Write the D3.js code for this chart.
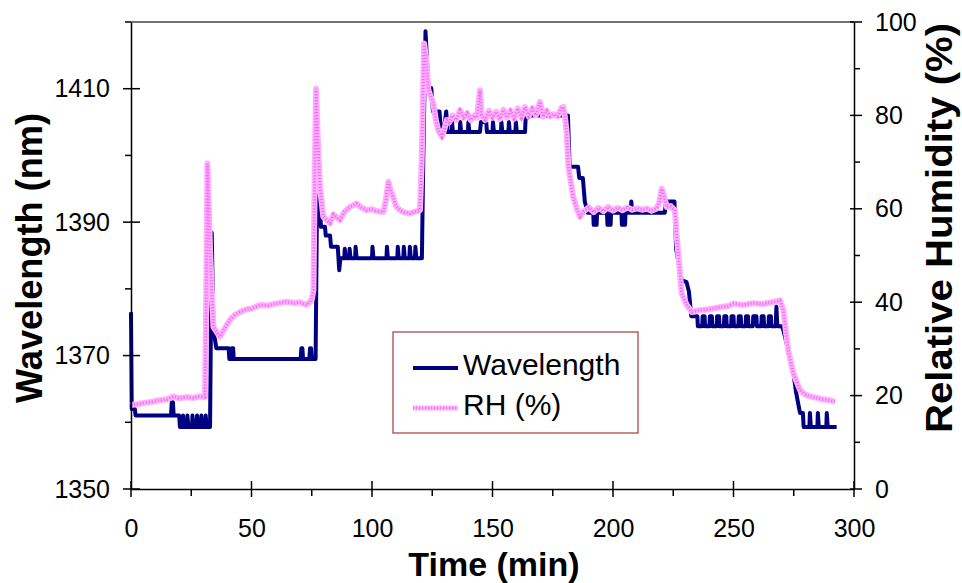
<!DOCTYPE html>
<html>
<head>
<meta charset="utf-8">
<script src="https://cdn.jsdelivr.net/npm/d3@7"></script>
<style>
  body { margin: 0; background: #fff; }
  svg text { font-family: Arial, "Liberation Sans", sans-serif; }
</style>
</head>
<body>
<svg id="chart"></svg>
<script>
// wavelength (nm) on the left axis, relative humidity (%) on the right axis

let width  = 962,
    height = 583;
let margin = {left: 131, right: 108, top: 22, bottom: 94};

let timeMajor = [0, 50, 100, 150, 200, 250, 300],
    timeMinor = [25, 75, 125, 175, 225, 275],
    wlMajor   = [1350, 1370, 1390, 1410],
    wlMinor   = [1360, 1380, 1400, 1420],
    rhMajor   = [0, 20, 40, 60, 80, 100],
    rhMinor   = [10, 30, 50, 70, 90];

// [time (min), wavelength (nm)]
let wavelength = [
  [0,1376.5],[0.3,1362],[1.6,1362],[1.9,1361],
  [16.6,1361],[16.9,1363],[17.4,1363],[17.7,1361],
  [20,1361],[20.3,1359.3],[21.4,1359.3],[21.6,1361],[22,1359.3],[23.2,1359.3],[23.4,1361],[23.8,1359.3],
  [25.3,1359.3],[25.5,1361],[25.9,1359.3],[27.2,1359.3],[27.4,1361],[27.8,1359.3],[29,1359.3],[29.2,1361],
  [29.6,1359.3],[30.8,1359.3],[31,1361],[31.4,1359.3],[32.8,1359.3],
  [33.5,1388.4],[34.2,1373.4],[34.8,1372.5],[35.4,1371.1],[40.5,1371.1],[40.8,1369.5],[41.6,1369.5],
  [41.8,1371.1],[42.4,1371.1],[42.6,1369.5],
  [70.4,1369.5],[70.7,1371.1],[71.1,1371.1],[71.4,1369.5],[74,1369.5],[74.3,1371.1],[74.7,1371.1],
  [75,1369.5],[76.6,1369.5],
  [77.4,1402],[78,1396],[78.8,1389.3],[80.5,1389.3],[80.8,1388],[82.6,1388],[83,1386.3],[85.8,1386.3],
  [86.4,1382.8],[86.9,1384.6],[88.5,1384.6],[88.7,1386],[89.1,1384.6],[90.5,1384.6],[90.7,1386],[91.1,1384.6],
  [93,1384.6],[93.2,1386.3],[93.6,1384.6],[100,1384.6],[100.2,1386.3],[100.6,1384.6],[106,1384.6],
  [106.2,1386.3],[106.6,1384.6],[110.5,1384.6],[110.7,1386.3],[111.1,1384.6],[113,1384.6],[113.2,1386.3],
  [113.6,1384.6],[115.5,1384.6],[115.7,1386.3],[116.1,1384.6],[117.8,1384.6],[118,1386.3],[118.4,1384.6],
  [120.7,1384.6],
  [121.3,1400],[122.2,1418.6],[123.4,1410.1],[124.6,1410.1],[125.3,1406.6],[128,1406.6],[128.5,1404.3],
  [130,1404.3],[130.8,1406.6],[131.3,1403.5],
  [133,1403.5],[133.2,1405],[133.6,1403.5],[136.4,1403.5],[136.6,1405],[137,1403.5],[139.8,1403.5],
  [140,1405],[140.4,1403.5],[144.8,1403.5],[145.2,1405],[147.4,1405],[147.7,1403.5],[150,1403.5],
  [150.2,1405],[150.6,1403.5],[153.5,1403.5],[153.7,1405],[154.1,1403.5],[156.6,1403.5],[156.8,1405],
  [157.2,1403.5],[159.5,1403.5],[159.7,1405],[160.1,1403.5],[163.5,1403.5],[163.8,1406],
  [181.3,1406],[182,1398.3],[185.5,1398.3],[186,1396.6],[187.5,1396.6],[188.3,1393.1],[189.5,1391.4],
  [191.8,1391.4],[192,1389.6],[193.2,1389.6],[193.4,1391.4],[197.5,1391.4],[197.7,1389.6],[199,1389.6],
  [199.2,1391.4],[203.5,1391.4],[203.7,1389.6],[205,1389.6],[205.2,1391.4],[207.3,1391.4],[207.6,1393.1],
  [208,1391.4],[221.5,1391.4],[222,1393.1],[225.5,1393.1],
  [226.2,1386],[228.5,1381.3],[230.5,1381],[231.5,1379.6],[232.5,1375.9],
  [235,1375.9],[235.2,1374.4],[237,1374.4],[237.2,1375.9],[238,1375.9],[238.2,1374.4],[240,1374.4],
  [240.2,1375.9],[241,1375.9],[241.2,1374.4],[243,1374.4],[243.2,1375.9],[244,1375.9],[244.2,1374.4],
  [246,1374.4],[246.2,1375.9],[247,1375.9],[247.2,1374.4],[249,1374.4],[249.2,1375.9],[250,1375.9],
  [250.2,1374.4],[252,1374.4],[252.2,1375.9],[253,1375.9],[253.2,1374.4],[255,1374.4],[255.2,1375.9],
  [256,1375.9],[256.2,1374.4],[258,1374.4],[258.2,1375.9],[259.5,1375.9],[259.7,1374.4],[261.5,1374.4],
  [261.7,1375.9],[262.5,1375.9],[262.7,1374.4],[264.5,1374.4],[264.7,1375.9],[265.5,1375.9],[265.7,1374.4],
  [267.5,1374.4],[267.8,1377.3],[268.2,1374.4],[270,1374.4],
  [270.7,1373.8],[273.4,1369.8],[274.7,1367.8],[276,1364.4],[277.6,1361.4],[278.8,1361.4],[279.1,1359.3],
  [281.5,1359.3],[281.7,1361.4],[282.1,1359.3],[284.8,1359.3],[285,1361.4],[285.4,1359.3],[288.5,1359.3],
  [288.7,1361.4],[289.1,1359.3],[292.8,1359.3]
];

// [time (min), relative humidity (%)]
let humidity = [
  [0,18],[3,18.2],[6,18.5],[9,18.7],[12,19],[15,19.2],[17.6,19.8],[20,19.4],[23,19.7],[26,19.5],
  [28,19.8],[30.7,19.7],[31.2,40],[31.7,69.7],[32.3,60],[32.8,51],[34.2,34.7],[36.9,32.6],[39,34.5],
  [41.1,36.2],[43,37.2],[45.2,37.9],[48,38.5],[50,38.6],[53.5,39.4],[57,39.3],[60,39.7],[64.6,40.1],
  [68,39.8],[70,40],[72.9,39.4],[75,40.5],[75.7,42.6],[76.3,70],[76.8,85.7],[77.5,75],[78.4,64.7],
  [79.8,58.3],[82.6,56.9],[84,58.8],[86.7,57.6],[88.5,59.3],[90.9,60.4],[93.6,61.1],[95.5,60.3],
  [97.8,59.7],[100,59.9],[102,59.5],[104.7,59.3],[105.8,62],[106.8,65.8],[107.8,63.8],[108.8,62.5],
  [110,60.5],[111.6,59.7],[113.5,59.2],[115.8,59],[118,59.4],[119.9,59.7],[120.6,70],[121.6,95.4],
  [122.5,92],[123.4,85.4],[125.5,82.5],[126.5,79],[127.5,76.8],[129,75.4],[130,77],[131,79],[132,78.5],
  [133.5,80],[135,79],[136.5,81.1],[138,79.5],[139.5,80.5],[141,79],[142.5,80],[143.5,79.5],[144.8,85.4],
  [145.5,80],[147,79],[148.5,81],[150,79.5],[151.5,80.8],[153,79.2],[154.5,81.2],[156,79.5],[157.5,81],
  [159,79.3],[160.5,81.5],[162,79.5],[163.5,81.8],[165,79.8],[166.5,81.5],[168,80],[169.7,82.9],[171,79.7],
  [172.5,81],[174,79.8],[175.5,80.3],[177,79.8],[178.5,81.5],[179.4,81.8],[180.2,79],[180.8,76.1],
  [181.5,69],[183.5,62.5],[185,60],[186.3,58.3],[188,59.5],[190,60.3],[192,59.3],[194,60.2],[196,59.5],
  [198,60.4],[200,59.6],[202,60.2],[204,59.7],[206,60.3],[208,59.8],[210,60.1],[212,59.8],[214,60],
  [216,59.6],[218,60],[219.3,61.5],[220.2,64.3],[221.3,62.5],[222.3,60.4],[224,60.5],[225.7,59.7],
  [226.3,55],[227,51],[228.5,41.9],[230.5,39.5],[232.7,37.9],[236,38.3],[240,38.5],[244,38.9],[248,39.2],
  [250,39.7],[254,39.4],[258,39.8],[262,39.6],[266,40],[268,40.2],[269.3,40.4],[270.7,38.3],[272.7,29.7],
  [274.8,24.8],[277.6,21.2],[279.5,20.3],[281.7,19.8],[284,19.6],[287,19.2],[290,19],[292.1,18.7]
];

let legendItems = ['Wavelength', 'RH (%)'];

let navy = '#000080',
    pink = '#ffb0ff',
    pinkDots = '#ef70ef';

let xScale   = d3.scaleLinear().domain([0, 300]).range([margin.left, width - margin.right]),
    yWlScale = d3.scaleLinear().domain([1350, 1420]).range([height - margin.bottom, margin.top]),
    yRhScale = d3.scaleLinear().domain([0, 100]).range([height - margin.bottom, margin.top]);

let svg = d3.select('#chart')
    .attr('width', width)
    .attr('height', height);

svg.append('rect')
    .attr('width', width)
    .attr('height', height)
    .attr('fill', '#fff');

let x0 = xScale.range()[0], x1 = xScale.range()[1],
    yB = yWlScale.range()[0], yT = yWlScale.range()[1];

// top border
svg.append('line')
    .attr('x1', x0).attr('x2', x1)
    .attr('y1', yT).attr('y2', yT)
    .attr('stroke', '#444')
    .attr('stroke-width', 1.5);

// lines
let wlLine = d3.line().x(d => xScale(d[0])).y(d => yWlScale(d[1])),
    rhLine = d3.line().x(d => xScale(d[0])).y(d => yRhScale(d[1]));

svg.append('path')
    .datum(wavelength)
    .attr('d', wlLine)
    .attr('fill', 'none')
    .attr('stroke', navy)
    .attr('stroke-width', 4)
    .attr('stroke-linejoin', 'round');

svg.append('path')
    .datum(humidity)
    .attr('d', rhLine)
    .attr('fill', 'none')
    .attr('stroke', pink)
    .attr('stroke-width', 6)
    .attr('stroke-linejoin', 'round');

svg.append('path')
    .datum(humidity)
    .attr('d', rhLine)
    .attr('fill', 'none')
    .attr('stroke', pinkDots)
    .attr('stroke-width', 3)
    .attr('stroke-dasharray', '1.2 1.8');

// axes: labels from d3 axes, tick marks drawn separately so they can cross the line
function styleAxis(g) {
  g.attr('font-size', 25)
   .attr('font-family', 'Arial, "Liberation Sans", sans-serif');
  g.select('.domain').attr('stroke', '#000').attr('stroke-width', 1.5);
  g.selectAll('text').attr('fill', '#000');
}

svg.append('g')
    .attr('transform', `translate(0, ${yB})`)
    .call(d3.axisBottom(xScale).tickValues(timeMajor).tickFormat(d3.format('d'))
            .tickSize(0).tickPadding(30).tickSizeOuter(0))
    .call(styleAxis);

svg.append('g')
    .attr('transform', `translate(${x0}, 0)`)
    .call(d3.axisLeft(yWlScale).tickValues(wlMajor).tickFormat(d3.format('d'))
            .tickSize(0).tickPadding(21).tickSizeOuter(0))
    .call(styleAxis);

svg.append('g')
    .attr('transform', `translate(${x1}, 0)`)
    .call(d3.axisRight(yRhScale).tickValues(rhMajor).tickFormat(d3.format('d'))
            .tickSize(0).tickPadding(21).tickSizeOuter(0))
    .call(styleAxis);

let ticks = svg.append('g').attr('stroke', '#000').attr('stroke-width', 1.5);

ticks.selectAll('.xmaj').data(timeMajor).enter().append('line')
    .attr('x1', d => xScale(d)).attr('x2', d => xScale(d))
    .attr('y1', yB - 8).attr('y2', yB + 8);
ticks.selectAll('.xmin').data(timeMinor).enter().append('line')
    .attr('x1', d => xScale(d)).attr('x2', d => xScale(d))
    .attr('y1', yB).attr('y2', yB + 7);

ticks.selectAll('.lmaj').data(wlMajor).enter().append('line')
    .attr('x1', x0 - 8).attr('x2', x0 + 9)
    .attr('y1', d => yWlScale(d)).attr('y2', d => yWlScale(d));
ticks.selectAll('.lmin').data(wlMinor).enter().append('line')
    .attr('x1', x0 - 6).attr('x2', x0)
    .attr('y1', d => yWlScale(d)).attr('y2', d => yWlScale(d));

ticks.selectAll('.rmaj').data(rhMajor).enter().append('line')
    .attr('x1', x1 - 4).attr('x2', x1 + 8)
    .attr('y1', d => yRhScale(d)).attr('y2', d => yRhScale(d));
ticks.selectAll('.rmin').data(rhMinor).enter().append('line')
    .attr('x1', x1).attr('x2', x1 + 6)
    .attr('y1', d => yRhScale(d)).attr('y2', d => yRhScale(d));

// axis titles
svg.append('text')
    .attr('transform', 'translate(42, 258) rotate(-90)')
    .attr('text-anchor', 'middle')
    .attr('font-size', 37)
    .attr('font-weight', 'bold')
    .attr('textLength', 290)
    .attr('lengthAdjust', 'spacingAndGlyphs')
    .text('Wavelength (nm)');

svg.append('text')
    .attr('transform', 'translate(952, 228) rotate(-90)')
    .attr('text-anchor', 'middle')
    .attr('font-size', 36)
    .attr('font-weight', 'bold')
    .attr('textLength', 410)
    .attr('lengthAdjust', 'spacingAndGlyphs')
    .text('Relative Humidity (%)');

svg.append('text')
    .attr('x', 494)
    .attr('y', 576)
    .attr('text-anchor', 'middle')
    .attr('font-size', 34)
    .attr('font-weight', 'bold')
    .text('Time (min)');

// legend
let legend = svg.append('g').attr('transform', 'translate(393, 332)');

legend.append('rect')
    .attr('width', 245)
    .attr('height', 101)
    .attr('fill', '#fff')
    .attr('stroke', '#a03c3c')
    .attr('stroke-width', 1.2);

let rows = legend.selectAll('.row')
    .data(legendItems)
    .enter().append('g')
    .attr('transform', (d, i) => `translate(0, ${36 + i * 40})`);

rows.append('line')
    .attr('x1', 20).attr('x2', 65)
    .attr('stroke', (d, i) => i === 0 ? navy : pink)
    .attr('stroke-width', (d, i) => i === 0 ? 4 : 5);

rows.filter((d, i) => i === 1).append('line')
    .attr('x1', 20).attr('x2', 65)
    .attr('stroke', pinkDots)
    .attr('stroke-width', 2.5)
    .attr('stroke-dasharray', '1.2 1.8');

rows.append('text')
    .attr('x', 70)
    .attr('y', 7)
    .attr('font-size', 30)
    .attr('fill', '#000')
    .text(d => d);
</script>
</body>
</html>
